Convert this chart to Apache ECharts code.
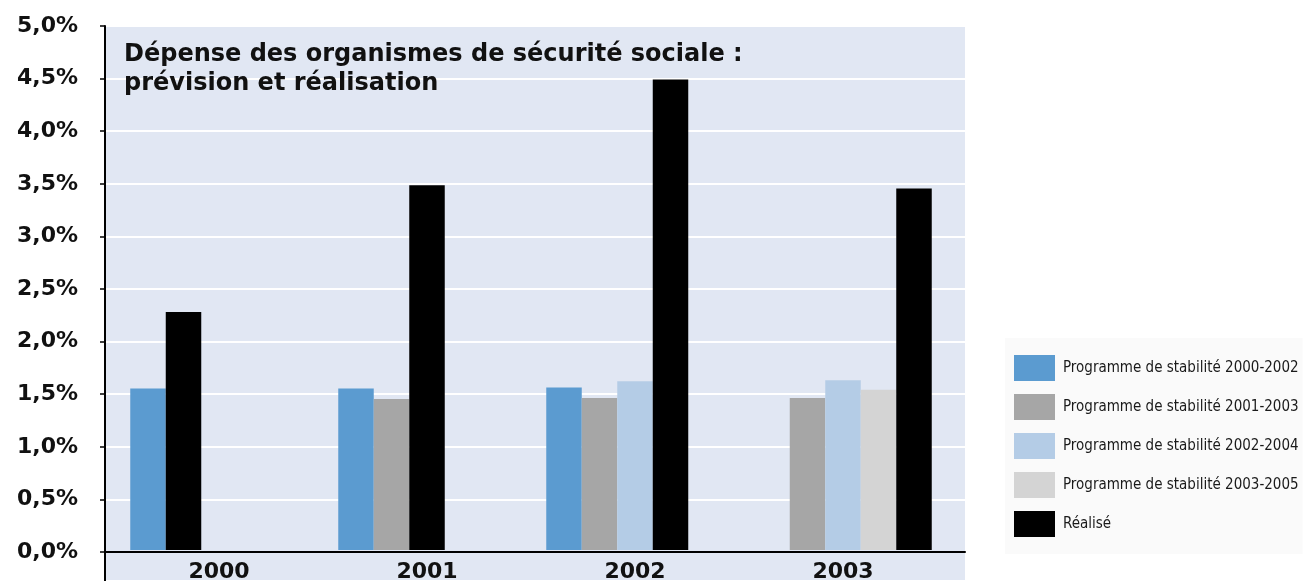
<!DOCTYPE html>
<html>
<head>
<meta charset="utf-8">
<script src="https://cdn.jsdelivr.net/npm/echarts@6/dist/echarts.min.js"></script>
<style>html,body{margin:0;padding:0;background:#fff;}#c{width:1308px;height:583px;}</style>
</head>
<body>
<div id="c"></div>
<script>
const years = ['2000', '2001', '2002', '2003'];
const prog2000_2002 = [1.54, 1.54, 1.55, null];
const prog2001_2003 = [null, 1.44, 1.45, 1.45];
const prog2002_2004 = [null, null, 1.61, 1.62];
const prog2003_2005 = [null, null, null, 1.53];
const realise = [2.27, 3.48, 4.49, 3.45];
const seriesNames = [
  'Programme de stabilité 2000-2002',
  'Programme de stabilité 2001-2003',
  'Programme de stabilité 2002-2004',
  'Programme de stabilité 2003-2005',
  'Réalisé'
];
const yTicks = [0, 0.5, 1, 1.5, 2, 2.5, 3, 3.5, 4, 4.5, 5];
const titleText = 'Dépense des organismes de sécurité sociale :\nprévision et réalisation';

const colors = ['#5B9BD0', '#A6A6A6', '#B4CCE6', '#D4D4D4', '#000000'];
const programmes = [prog2000_2002, prog2001_2003, prog2002_2004, prog2003_2005];

// Build slot series: forecasts in their own slot, "Réalisé" right after the last forecast.
const slots = [[], [], [], [], []];
years.forEach((y, c) => {
  let last = -1;
  programmes.forEach((p, k) => { if (p[c] != null) last = k; });
  for (let k = 0; k < 5; k++) {
    let item = null;
    if (k <= last && programmes[k][c] != null) {
      item = { value: programmes[k][c], itemStyle: { color: colors[k] } };
    } else if (k === last + 1) {
      item = { value: realise[c], itemStyle: { color: colors[4] } };
    }
    slots[k].push(item);
  }
});

const chart = echarts.init(document.getElementById('c'), null, { renderer: 'canvas' });
const boldFont = "'DejaVu Sans', sans-serif";

const series = [];
slots.forEach((d, k) => {
  series.push({
    type: 'bar', name: '_slot' + k, xAxisIndex: 1, yAxisIndex: 1,
    data: d, barWidth: 35.5, barGap: '0%', silent: true
  });
});
seriesNames.forEach((n, k) => {
  series.push({
    type: 'bar', name: n, xAxisIndex: 0, yAxisIndex: 0, data: [],
    itemStyle: { color: colors[k] }
  });
});

chart.setOption({
  animation: false,
  backgroundColor: '#ffffff',
  title: {
    text: titleText, left: 119, top: 35,
    textStyle: { fontFamily: boldFont, fontWeight: 'bold', fontSize: 24, lineHeight: 29, color: '#111' }
  },
  legend: {
    data: seriesNames, orient: 'vertical', left: 1005, top: 338,
    padding: [17, 4, 17, 9], backgroundColor: '#fafafa',
    itemWidth: 41, itemHeight: 26, itemGap: 13, icon: 'rect', selectedMode: false,
    textStyle: { fontFamily: "'Liberation Sans Narrow', 'DejaVu Sans Condensed', 'Liberation Sans', sans-serif", fontSize: 15, color: '#1a1a1a', padding: [0, 0, 0, 3] }
  },
  graphic: [
    { type: 'rect', z: -10, shape: { x: 105, y: 27, width: 860, height: 553 }, style: { fill: '#E1E7F3' } },
    { type: 'line', z: 10, shape: { x1: 105, y1: 551, x2: 105, y2: 581 }, style: { stroke: '#000', lineWidth: 2 } }
  ],
  grid: [
    { left: 105, right: 343, top: 26, bottom: 31 },
    { left: 115, right: 361, top: 26, bottom: 31 }
  ],
  xAxis: [
    { gridIndex: 0, type: 'category', data: [''], axisLine: { lineStyle: { color: '#000', width: 2 } },
      axisTick: { show: false }, axisLabel: { show: false }, splitLine: { show: false } },
    { gridIndex: 1, type: 'category', data: years, axisLine: { show: false }, axisTick: { show: false },
      axisLabel: { margin: 11, fontFamily: boldFont, fontWeight: 'bold', fontSize: 22, color: '#111' } }
  ],
  yAxis: [
    { gridIndex: 0, type: 'value', min: yTicks[0], max: yTicks[yTicks.length - 1], interval: 0.5,
      axisLine: { show: true, lineStyle: { color: '#000', width: 2 } },
      axisTick: { show: true, length: 5, lineStyle: { color: '#000', width: 1.5 } },
      splitLine: { show: true, lineStyle: { color: '#ffffff', width: 2 } },
      axisLabel: { margin: 27, fontFamily: boldFont, fontWeight: 'bold', fontSize: 22, color: '#111',
        formatter: v => v.toFixed(1).replace('.', ',') + '%' } },
    { gridIndex: 1, type: 'value', min: yTicks[0], max: yTicks[yTicks.length - 1], interval: 0.5,
      show: false, splitLine: { show: false } }
  ],
  series: series
});
</script>
</body>
</html>
